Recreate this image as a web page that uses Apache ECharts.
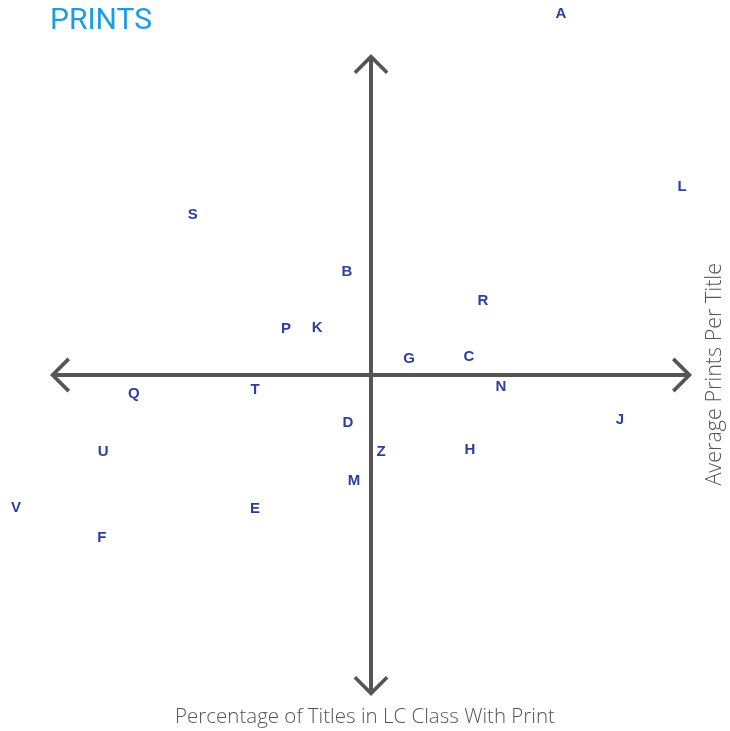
<!DOCTYPE html>
<html>
<head>
<meta charset="utf-8">
<script src="https://cdn.jsdelivr.net/npm/echarts@6/dist/echarts.min.js"></script>
<style>html,body{margin:0;padding:0;background:#fff}#c{width:730px;height:731px}</style>
</head>
<body>
<div id="c"></div>
<script>
const letters = ['A','L','S','B','R','P','K','G','C','N','Q','T','J','D','U','Z','H','M','V','E','F'];
const xValues = [5.99, 9.81, -5.62, -0.76, 3.53, -2.68, -1.70, 1.20, 3.09, 4.10, -7.48, -3.66, 7.85, -0.73, -8.45, 0.32, 3.12, -0.54, -11.20, -3.66, -8.49];
const yValues = [11.39, 5.93, 5.05, 3.25, 2.33, 1.45, 1.48, 0.50, 0.57, -0.38, -0.60, -0.47, -1.42, -1.51, -2.43, -2.43, -2.37, -3.34, -4.20, -4.23, -5.14];
const titleText = 'PRINTS';
const xName = 'Percentage of Titles in LC Class With Print';
const yName = 'Average Prints Per Title';

const chevron = 'path://M0,0 L17,17 L14.5,19.5 L0,5 L-14.5,19.5 L-17,17 Z';
const axisLineCfg = {
  show: true,
  onZero: true,
  symbol: [chevron, chevron],
  symbolSize: [35, 20],
  symbolOffset: [6, -6],
  lineStyle: { color: '#555555', width: 4 }
};

const chart = echarts.init(document.getElementById('c'));
chart.setOption({
  animation: false,
  title: [
    { text: titleText, left: 45, top: 1, textStyle: { color: '#1a9ee0', fontSize: 30, fontWeight: 'normal', fontFamily: 'Roboto' } }
  ],
  graphic: [
    {
      type: 'text', left: 'center', top: 707,
      style: { text: xName, fill: '#555555', font: '300 20.5px "Open Sans"' }
    },
    {
      type: 'text', left: 704, top: 263, rotation: Math.PI / 2,
      style: { text: yName, fill: '#555555', font: '300 21.5px "Open Sans"' }
    }
  ],
  grid: { left: 54, right: 42, top: 58, bottom: 39 },
  xAxis: { type: 'value', min: -10, max: 10, axisLine: axisLineCfg, axisTick: { show: false }, axisLabel: { show: false }, splitLine: { show: false } },
  yAxis: { type: 'value', min: -10, max: 10, axisLine: axisLineCfg, axisTick: { show: false }, axisLabel: { show: false }, splitLine: { show: false } },
  series: [{
    type: 'scatter',
    clip: false,
    symbolSize: 0,
    itemStyle: { color: '#2c3fa0', opacity: 1 },
    label: { show: true, position: 'inside', formatter: p => p.name, color: '#2c3fa0', opacity: 1, textBorderWidth: 0, fontSize: 15, fontWeight: 'bold', fontFamily: 'Liberation Sans' },
    data: letters.map((n, i) => ({ name: n, value: [xValues[i], yValues[i]] }))
  }]
});
</script>
</body>
</html>
